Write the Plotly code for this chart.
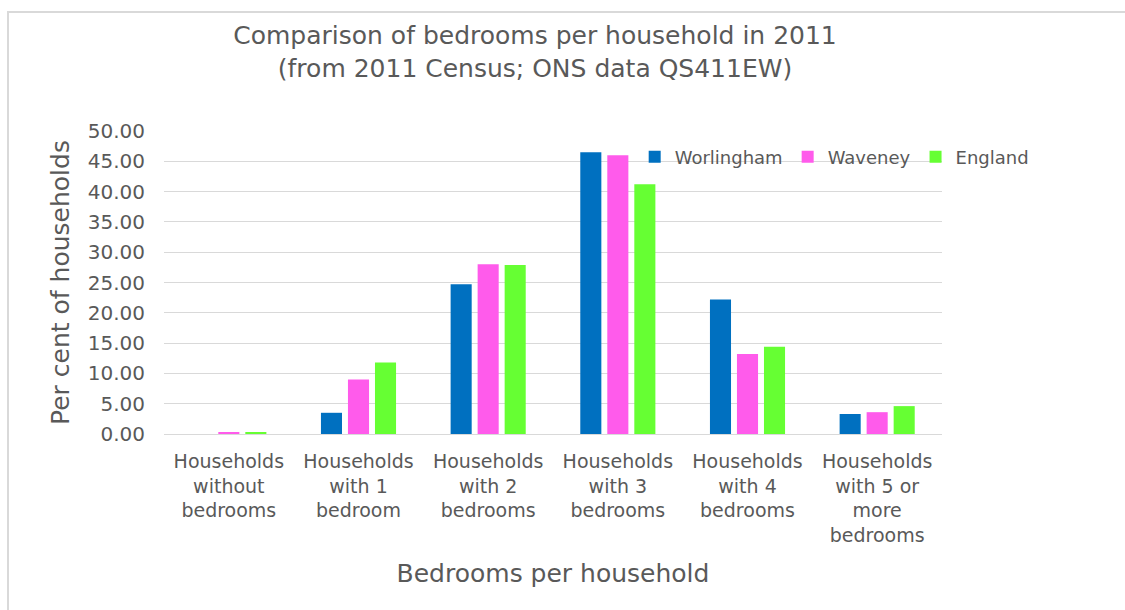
import plotly.graph_objects as go

# categories and values (per cent of households, 2011 Census QS411EW)
categories = [
    "Households<br>without<br>bedrooms",
    "Households<br>with 1<br>bedroom",
    "Households<br>with 2<br>bedrooms",
    "Households<br>with 3<br>bedrooms",
    "Households<br>with 4<br>bedrooms",
    "Households<br>with 5 or<br>more<br>bedrooms",
]
worlingham = [0.0, 3.5, 24.7, 46.5, 22.2, 3.3]
waveney = [0.2, 9.0, 28.0, 46.0, 13.2, 3.6]
england = [0.2, 11.8, 27.9, 41.2, 14.4, 4.6]

series = [
    ("Worlingham", worlingham, "#0070C0"),
    ("Waveney", waveney, "#FF5BEB"),
    ("England", england, "#66FF33"),
]

FONT = "DejaVu Sans"
GREY = "#595959"

fig = go.Figure()
for name, vals, col in series:
    fig.add_trace(go.Bar(
        x=categories, y=vals, name=name,
        marker=dict(color=col, line=dict(width=0)),
    ))

fig.update_layout(
    width=1125, height=610,
    margin=dict(l=164, r=183, t=131, b=176),
    paper_bgcolor="white", plot_bgcolor="white",
    font=dict(family=FONT, color=GREY, size=19),
    barmode="group", bargap=0.375, bargroupgap=0.22,
    title=dict(
        text="Comparison of bedrooms per household in 2011<br>(from 2011 Census; ONS data QS411EW)",
        x=535 / 1125, xanchor="center", xref="container",
        y=1 - 44 / 610, yanchor="middle", yref="container",
        font=dict(size=25, color=GREY, family=FONT),
    ),
    legend=dict(
        orientation="h", x=0.605, xanchor="left", y=0.914, yanchor="middle",
        font=dict(size=18, color=GREY), bgcolor="rgba(0,0,0,0)",
        itemwidth=30, traceorder="normal",
    ),
    showlegend=True,
)

fig.update_yaxes(
    range=[0, 50], dtick=5, tickformat=".2f",
    showgrid=True, gridcolor="#d9d9d9", gridwidth=1,
    zeroline=False, showline=False, ticks="",
    ticklabelstandoff=18, tickfont=dict(size=20, color=GREY),
    title=dict(text="Per cent of households", font=dict(size=25, color=GREY), standoff=10),
)
fig.update_xaxes(
    showline=True, linecolor="#d9d9d9", linewidth=1, ticks="",
    ticklabelstandoff=10, tickfont=dict(size=19, color=GREY),
    title=dict(text="Bedrooms per household", font=dict(size=25, color=GREY), standoff=19),
)

# outer chart frame
fig.add_shape(type="rect", xref="paper", yref="paper",
              x0=(8 - 164) / 778, x1=1.5, y0=-1.0, y1=(434 - 12) / 303,
              line=dict(color="#d9d9d9", width=2), fillcolor="rgba(0,0,0,0)", layer="below")

fig.write_html("out.html", config={"displayModeBar": False},
               post_script="document.body.style.margin='0';")
